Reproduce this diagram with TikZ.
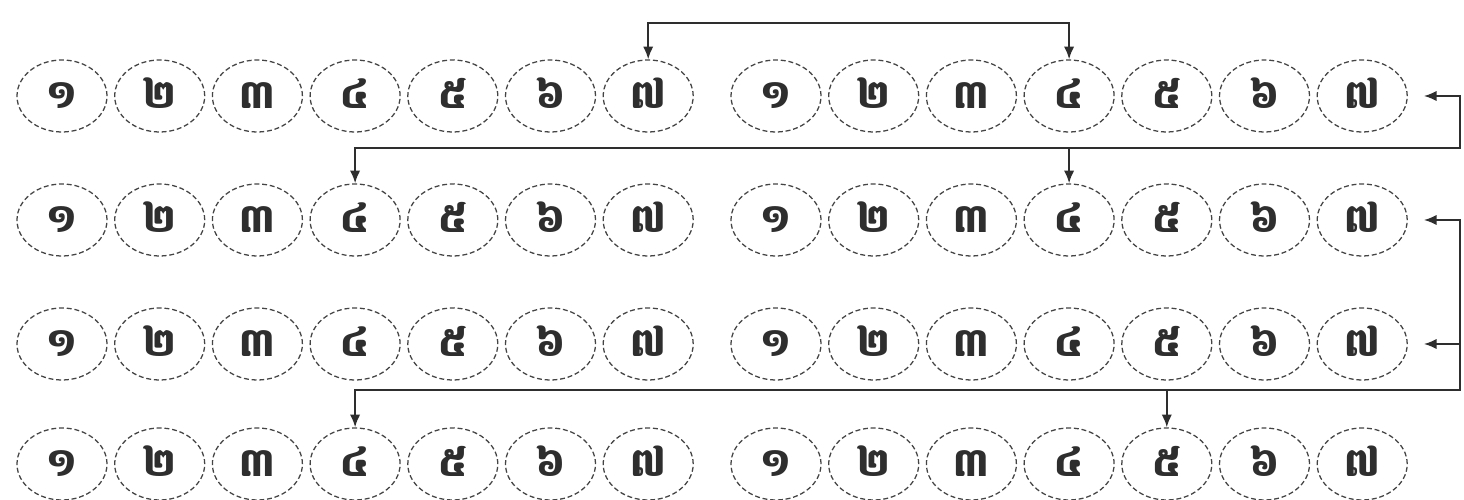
\documentclass[tikz,border=0pt]{standalone}
\usepackage{fontspec}
\newfontfamily\khmerfont[Script=Khmer]{Battambang}
\usepackage{tikz}
\usetikzlibrary{arrows.meta, shapes.geometric, calc}

\definecolor{linegray}{HTML}{2E2E2E}
\definecolor{rimgray}{HTML}{444444}

\begin{document}
\begin{tikzpicture}[
    digit/.style={ellipse, draw=rimgray, line width=0.9pt, dash pattern=on 3.5pt off 2pt,
                  minimum width=2.25cm, minimum height=1.8cm, inner sep=0pt,
                  text height=0.62cm, text depth=0cm,
                  font=\khmerfont\bfseries\fontsize{28}{30}\selectfont, text=linegray},
    link/.style={draw=linegray, line width=1.5pt, {Latex[length=0.32cm,width=0.26cm]}-{Latex[length=0.32cm,width=0.26cm]}},
    feed/.style={draw=linegray, line width=1.5pt, -{Latex[length=0.32cm,width=0.26cm]}}]
    \useasboundingbox (0,0) rectangle (36.6,12.5);
    \fill[white] (0,0) rectangle (36.6,12.5);

    % Digit rows (two groups of seven per row)
    \foreach \r/\y in {1/10.1, 2/7.0, 3/3.9, 4/0.9} {
        \foreach \i/\d in {1/១, 2/២, 3/៣, 4/៤, 5/៥, 6/៦, 7/៧} {
            \node[digit] (r\r a\i) at ({1.55+2.4425*(\i-1)}, \y) {\d};
            \node[digit] (r\r b\i) at ({19.4+2.4425*(\i-1)}, \y) {\d};
        }
    }

    % Bus points
    \coordinate (top) at ($(r1a7.north)+(0,0.9)$);
    \coordinate (bus1) at (36.5, 8.8);
    \coordinate (bus2) at (36.5, 2.75);

    % Connections
    \draw[link] (r1a7.north) -- (top) -| (r1b4.north);
    \draw[link, shorten <=0.4cm] (r1b7.east) -| (bus1) -| (r2a4.north);
    \draw[feed] (r2b4.north |- bus1) -- (r2b4.north);
    \draw[link, shorten <=0.4cm] (r2b7.east) -| (bus2) -| (r4a4.north);
    \draw[feed, shorten >=0.4cm] (bus2 |- r3b7.east) -- (r3b7.east);
    \draw[feed] (r4b5.north |- bus2) -- (r4b5.north);
\end{tikzpicture}
\end{document}
